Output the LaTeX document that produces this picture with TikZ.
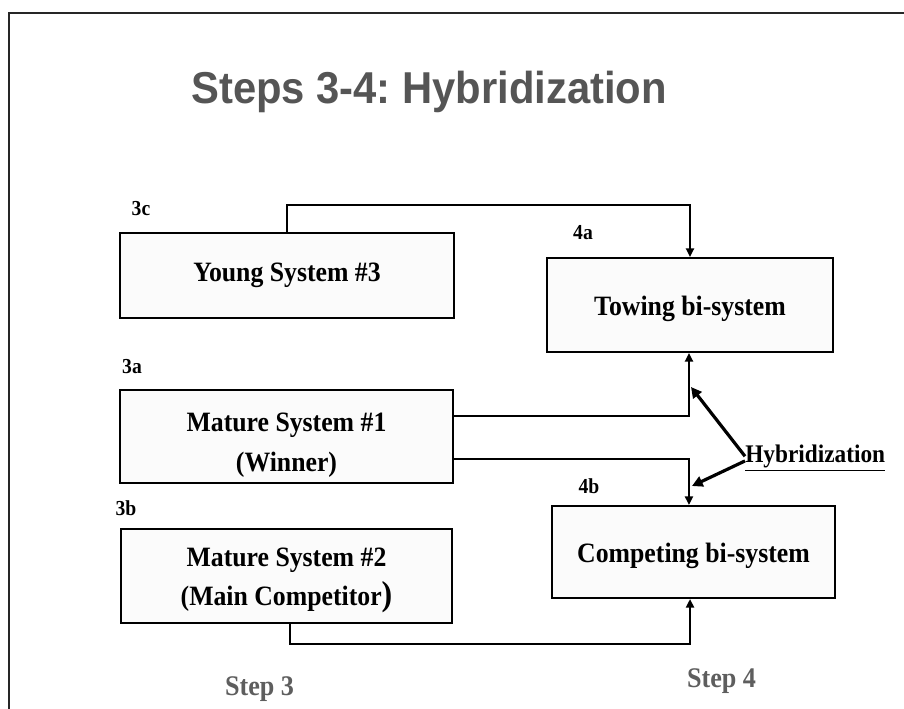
\documentclass[tikz,border=0pt]{standalone}
\usepackage{fontspec}
\setmainfont{Liberation Serif}[FakeStretch=0.92]
\newfontfamily\headfont{Liberation Sans}[FakeStretch=0.935]
\usetikzlibrary{arrows.meta,calc}

\definecolor{headgray}{HTML}{555555}
\definecolor{stepgray}{HTML}{5E5E5E}
\definecolor{boxfill}{HTML}{FBFBFB}

\tikzset{
  sysbox/.style={draw=black, line width=1.5pt, fill=boxfill, rectangle,
    inner sep=0pt, align=center, font=\bfseries\fontsize{21}{30}\selectfont},
  tag/.style={inner sep=0pt, font=\bfseries\fontsize{16}{18}\selectfont},
  conn/.style={draw=black, line width=1.9pt,
    -{Triangle[length=6.5pt,width=6pt]}},
  hybarrow/.style={draw=black, line width=2.4pt,
    -{Triangle[length=8pt,width=8pt]}},
  steplabel/.style={inner sep=0pt, text=stepgray,
    font=\bfseries\fontsize{21.3}{24}\selectfont},
}

\begin{document}
\frenchspacing
\begin{tikzpicture}[x=0.75pt,y=-0.75pt]
  % page area
  \useasboundingbox (0,0) rectangle (904,709);
  \fill[white] (0,0) rectangle (904,709);

  % frame along the top and left edges
  \draw[line width=1.6pt, black!85] (9,709) -- (9,13) -- (904,13);

  % heading
  \node[anchor=base west, inner sep=0pt, text=headgray,
        font=\headfont\bfseries\fontsize{33.5}{40}\selectfont]
        (title) at (191,104) {Steps 3-4: Hybridization};

  % systems of step 3
  \node[sysbox, minimum width=250.5pt, minimum height=63.75pt,
        text height=9.75pt, text depth=0pt]
        (young) at (287,275.5) {Young System \#3};
  \node[sysbox, minimum width=249.75pt, minimum height=69.75pt,
        text height=51.75pt, text depth=0pt]
        (mature1) at (286.5,436.5) {Mature System \#1\\(Winner)};
  \node[sysbox, minimum width=248.25pt, minimum height=70.5pt,
        text height=43.5pt, text depth=0pt,
        font=\bfseries\fontsize{21}{29.25}\selectfont]
        (mature2) at (286.5,576)
        {Mature System \#2\\(Main Competitor{\fontsize{26}{29.25}\selectfont)}};

  % bi-systems of step 4
  \node[sysbox, minimum width=214.5pt, minimum height=70.5pt,
        text height=16.5pt, text depth=0pt]
        (towing) at (690,305) {Towing bi-system};
  \node[sysbox, minimum width=212.25pt, minimum height=69pt,
        text height=15pt, text depth=0pt]
        (competing) at (693.5,552) {Competing bi-system};

  % small tags
  \node[tag] (t3c) at (141,209) {3c};
  \node[tag] (t3a) at (132,367) {3a};
  \node[tag] (t3b) at (126,508) {3b};
  \node[tag] (t4a) at (583,233) {4a};
  \node[tag] (t4b) at (589,486) {4b};

  % connectors
  \draw[conn] (young.north) |- ++(0,-27) -| (towing.north);
  \draw[conn] ([yshift=15.4pt]mature1.east) -| ([xshift=-0.75pt]towing.south);
  \draw[conn] ([yshift=-16.9pt]mature1.east) -| ([xshift=-3.4pt]competing.north);
  \draw[conn] ([xshift=2.6pt]mature2.south) |- ++(0,20) -| ([xshift=-2.6pt]competing.south);

  % hybridization label and its pointers
  \node[anchor=base west, inner sep=0pt,
        font=\bfseries\fontsize{19}{22}\selectfont]
        (hyb) at (745,463) {\underline{Hybridization}};
  \coordinate (tipA) at (691,387);
  \coordinate (tipB) at (692,486);
  \draw[hybarrow] ([yshift=1.5pt]hyb.west) -- (tipA);
  \draw[hybarrow] ([yshift=-2pt]hyb.west) -- (tipB);

  % step captions
  \node[steplabel, anchor=base] (s3) at (259.5,695) {Step 3};
  \node[steplabel, anchor=base] (s4) at (721.5,687) {Step 4};
\end{tikzpicture}
\end{document}
